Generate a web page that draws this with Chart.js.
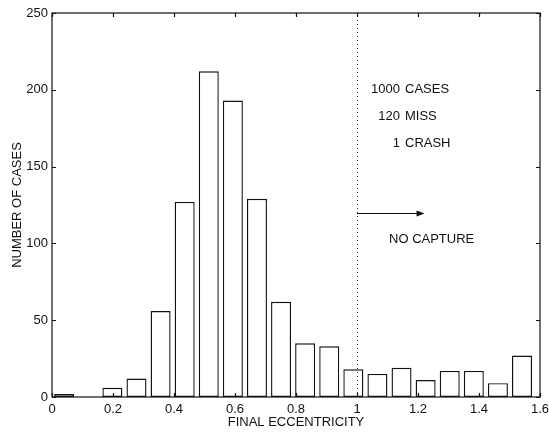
<!DOCTYPE html>
<html>
<head>
<meta charset="utf-8">
<script src="https://cdn.jsdelivr.net/npm/chart.js@4.4.1/dist/chart.umd.min.js"></script>
<style>
    html, body { margin: 0; padding: 0; background: #fff; }
    #wrap { width: 549px; height: 432px; }
</style>
</head>
<body>
<div id="wrap"><canvas id="histChart" width="549" height="432"></canvas></div>
<script>
// bin centres of the eccentricity histogram and the count in each bin
const binCenters = [0.040, 0.119, 0.198, 0.277, 0.356, 0.435, 0.514, 0.593, 0.672, 0.751,
    0.830, 0.909, 0.988, 1.067, 1.146, 1.225, 1.304, 1.383, 1.462, 1.541];
const caseCounts = [2, 0, 6, 12, 56, 127, 212, 193, 129, 62,
    35, 33, 18, 15, 19, 11, 17, 17, 9, 27];
const summaryNumbers = ['1000', '120', '1'];
const summaryWords = ['CASES', 'MISS', 'CRASH'];

const FONT = '"Liberation Sans", Arial, Helvetica, sans-serif';
const INK = '#111';

const framePlugin = {
    id: 'frame',
    afterDatasetsDraw(chart) {
        const { ctx, chartArea: area, scales: { x, y } } = chart;
        ctx.save();

        // dotted line at e = 1
        const x1 = x.getPixelForValue(1);
        ctx.strokeStyle = '#333';
        ctx.lineWidth = 1;
        ctx.setLineDash([1, 3]);
        ctx.beginPath();
        ctx.moveTo(x1 + 0.5, area.bottom);
        ctx.lineTo(x1 + 0.5, area.top);
        ctx.stroke();
        ctx.setLineDash([]);

        // box and inward ticks
        ctx.strokeStyle = INK;
        ctx.lineWidth = 1.2;
        ctx.strokeRect(area.left, area.top, area.right - area.left, area.bottom - area.top);
        ctx.beginPath();
        x.ticks.forEach((t) => {
            const px = Math.round(x.getPixelForValue(t.value)) + 0.5;
            ctx.moveTo(px, area.bottom);
            ctx.lineTo(px, area.bottom - 4);
            ctx.moveTo(px, area.top);
            ctx.lineTo(px, area.top + 4);
        });
        y.ticks.forEach((t) => {
            const py = Math.round(y.getPixelForValue(t.value)) + 0.5;
            ctx.moveTo(area.left, py);
            ctx.lineTo(area.left + 4, py);
            ctx.moveTo(area.right, py);
            ctx.lineTo(area.right - 4, py);
        });
        ctx.stroke();

        // arrow past the capture limit
        const ay = Math.round(y.getPixelForValue(120)) + 0.5;
        const ax2 = x.getPixelForValue(1.215);
        ctx.beginPath();
        ctx.moveTo(x1, ay);
        ctx.lineTo(ax2, ay);
        ctx.stroke();
        ctx.fillStyle = INK;
        ctx.beginPath();
        ctx.moveTo(ax2 + 2, ay);
        ctx.lineTo(ax2 - 6, ay - 3);
        ctx.lineTo(ax2 - 6, ay + 3);
        ctx.closePath();
        ctx.fill();

        // annotations
        ctx.font = `13px ${FONT}`;
        ctx.textBaseline = 'middle';
        const numRight = x.getPixelForValue(1.141);
        const rows = [200, 182.5, 165];
        summaryNumbers.forEach((num, i) => {
            const py = y.getPixelForValue(rows[i]);
            ctx.textAlign = 'right';
            ctx.fillText(num, numRight, py);
            ctx.textAlign = 'left';
            ctx.fillText(summaryWords[i], numRight + 5, py);
        });
        ctx.textAlign = 'left';
        ctx.fillText('NO CAPTURE', x.getPixelForValue(1.105), y.getPixelForValue(102.5));

        ctx.restore();
    },
};

const tickText = (value) => String(Number(value.toFixed(1)));

new Chart(document.getElementById('histChart'), {
    type: 'bar',
    data: {
        datasets: [{
            data: binCenters.map((c, i) => ({ x: c, y: caseCounts[i] })),
            backgroundColor: '#fff',
            borderColor: INK,
            borderWidth: 1.4,
            borderSkipped: false,
            barPercentage: 0.83,
            categoryPercentage: 1,
        }],
    },
    options: {
        responsive: false,
        animation: false,
        devicePixelRatio: 1,
        layout: { padding: { top: 13, right: 0, left: 0, bottom: 0 } },
        plugins: { legend: { display: false }, tooltip: { enabled: false } },
        scales: {
            x: {
                type: 'linear',
                offset: false,
                min: 0,
                max: 1.6,
                grid: { display: false, drawTicks: false },
                border: { display: false },
                ticks: { stepSize: 0.2, padding: 5, color: INK, font: { family: FONT, size: 13 }, callback: tickText, maxRotation: 0 },
                title: { display: true, text: 'FINAL ECCENTRICITY', color: INK, font: { family: FONT, size: 13 }, padding: { top: 0, bottom: 2 } },
                afterFit: (scale) => {
                    scale.height = 35;
                    scale.paddingLeft = 0;
                    scale.paddingRight = 9;
                },
            },
            y: {
                min: 0,
                max: 250,
                grid: { display: false, drawTicks: false },
                border: { display: false },
                ticks: { stepSize: 50, padding: 4, color: INK, font: { family: FONT, size: 13 } },
                title: { display: true, text: 'NUMBER OF CASES', color: INK, font: { family: FONT, size: 13 }, padding: { top: 10, bottom: 0 } },
                afterFit: (scale) => { scale.width = 52; },
            },
        },
    },
    plugins: [framePlugin],
});
</script>
</body>
</html>
